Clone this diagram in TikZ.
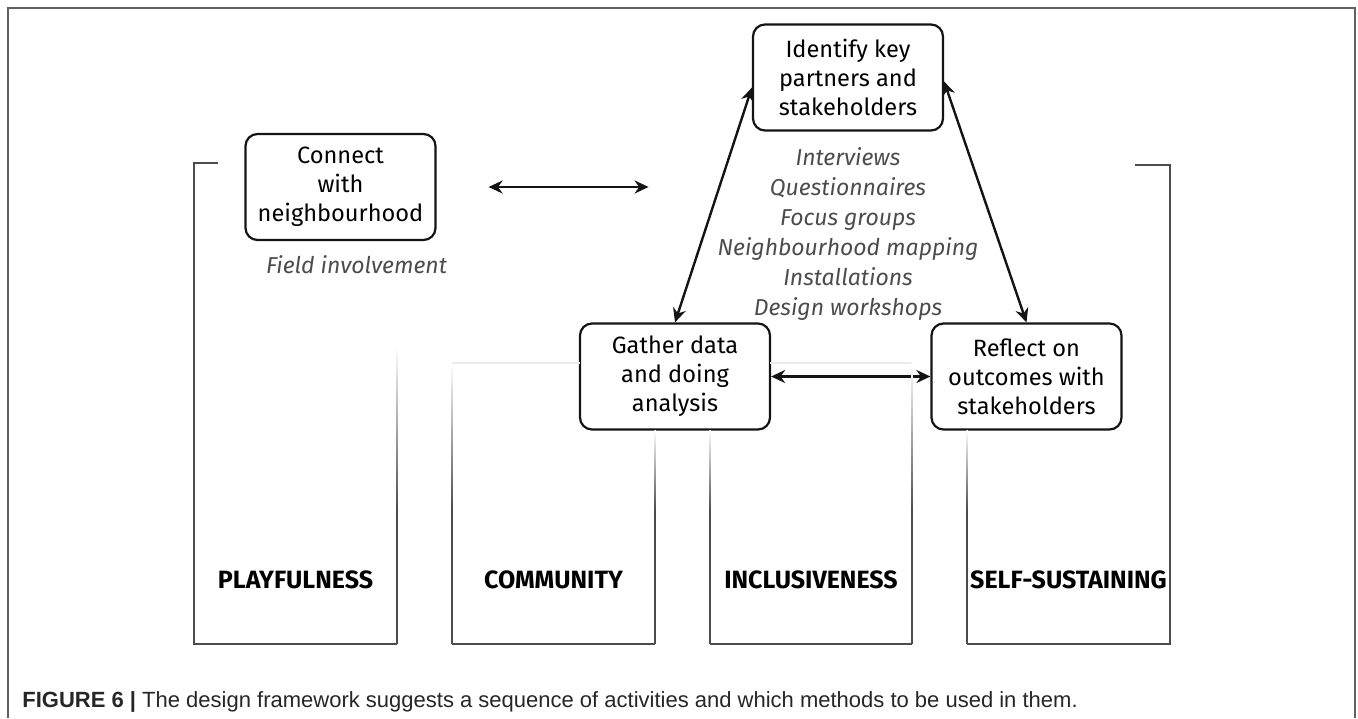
\documentclass[tikz,border=0pt]{standalone}
\usepackage{fontspec}
\setmainfont{Fira Sans}
\newfontfamily\capfont{Liberation Sans}
\usetikzlibrary{positioning,arrows.meta}
\definecolor{ink}{rgb}{0.08,0.08,0.08}
\definecolor{method}{rgb}{0.3,0.3,0.3}
\definecolor{pillar}{rgb}{0.3,0.3,0.3}
\definecolor{frame}{rgb}{0.38,0.38,0.38}
\tikzset{
  activity/.style = {draw=ink,line width=1.1pt,rounded corners=6pt,minimum width=95pt,minimum height=53pt,align=center,font=\fontsize{11.8}{14.5}\selectfont,inner sep=2pt},
  methods/.style = {align=center,text=method,font=\fontsize{11.5}{15}\selectfont\itshape,inner sep=0pt},
  value/.style = {font=\fontsize{12.5}{14}\selectfont\bfseries,inner sep=0pt},
  arr/.style = {{Stealth[length=7pt,width=6.5pt]}-{Stealth[length=7pt,width=6.5pt]},line width=1.2pt,ink},
  wall/.style = {pillar,line width=0.75pt},
  faint/.style = {black!8,line width=0.75pt},
  frm/.style = {frame,line width=1pt}
}
% x, top, bottom of a pillar side that fades in from above
\newcommand{\fadewall}[3]{%
  \shade[top color=white,bottom color=pillar] (#1-0.75,#2) rectangle (#1+0.75,510);
  \draw[wall] (#1,510) -- (#1,#3);}

\begin{document}
\begin{tikzpicture}[x=0.5pt,y=-0.5pt]
\useasboundingbox (0,0) rectangle (1358,718);

% frame
\draw[frm] (8,718) -- (8,8) -- (1355,8) -- (1355,718);

% activities
\node[activity] (connect) at (340.5,187) {Connect\\with\\neighbourhood};
\node[activity] (identify) at (848,77.5) {Identify key\\partners and\\stakeholders};
\node[activity] (gather) at (675,376.5) {Gather data\\and doing\\analysis};
\node[activity] (reflect) at (1026.5,376.5) {Reflect on\\outcomes with\\stakeholders};

\node[methods,below=7pt of connect,xshift=8pt] (field) {Field involvement};
\node[methods,below=8pt of identify] (list) {Interviews\\Questionnaires\\Focus groups\\Neighbourhood mapping\\Installations\\Design workshops};

\coordinate[right=26pt of connect] (lnka);
\coordinate[right=80pt of lnka] (lnkb);

\draw[arr] (lnka) -- (lnkb);
\draw[arr] ([yshift=-5pt]identify.west) -- (gather.north);
\draw[arr] ([yshift=-2pt]identify.east) -- (reflect.north);
\draw[arr] (gather) -- (reflect);

% pillars
\draw[wall] (218,163) -- (194,163) -- (194,644) -- (397,644);
\fadewall{397}{345}{644}

\draw[faint] (452,363) -- (580,363);
\fadewall{452}{363}{644}
\draw[wall] (452,644) -- (655,644);
\fadewall{655}{430}{644}

\draw[faint] (770,363) -- (912,363);
\fadewall{710}{430}{644}
\draw[wall] (710,644) -- (912,644);
\fadewall{912}{363}{644}

\draw[wall] (1135,165) -- (1170,165) -- (1170,644) -- (967,644);
\fadewall{967}{430}{644}

\node[value] (play) at (295.5,580) {PLAYFULNESS};
\node[value] (comm) at (553.5,580) {COMMUNITY};
\node[value] (incl) at (811,580) {INCLUSIVENESS};
\node[value] (self) at (1068.5,580) {SELF-SUSTAINING};

\node[anchor=west,inner sep=0pt,text=black!85,font=\capfont\fontsize{11}{13}\selectfont] (cap) at (22,702) {\textbf{FIGURE 6 |} The design framework suggests a sequence of activities and which methods to be used in them.};
\end{tikzpicture}
\end{document}
